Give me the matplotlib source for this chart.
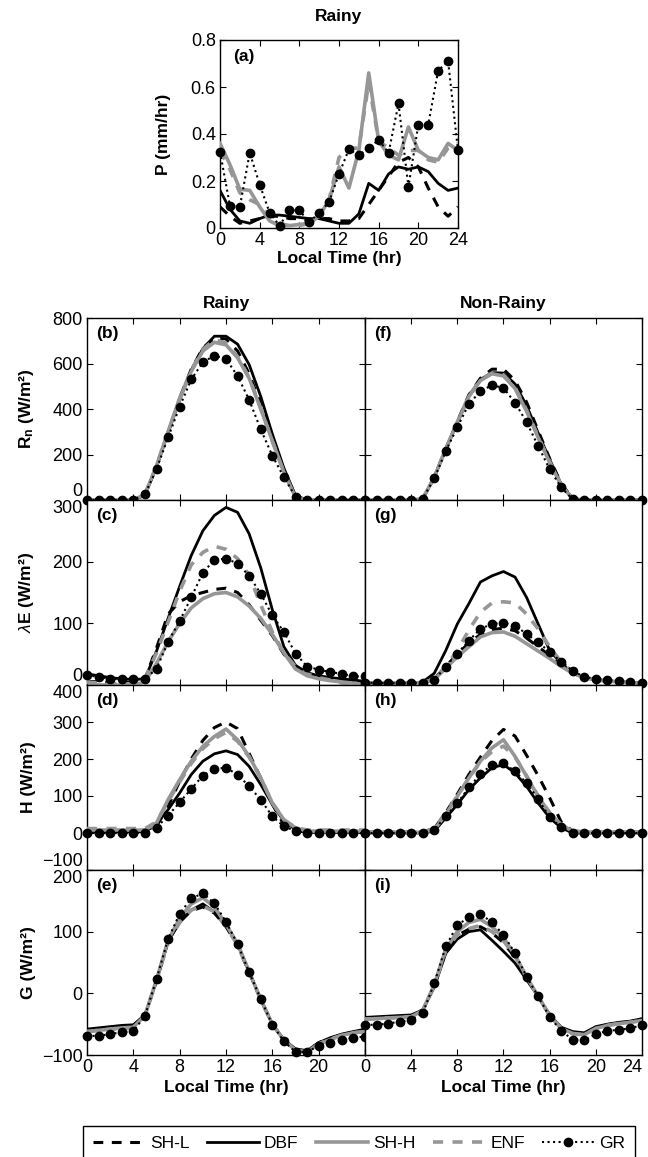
import numpy as np
import matplotlib
matplotlib.use('Agg')
import matplotlib.pyplot as plt
from matplotlib.lines import Line2D

plt.rcParams['font.family'] = ['Liberation Sans', 'DejaVu Sans']
plt.rcParams['mathtext.fontset'] = 'custom'
plt.rcParams['mathtext.rm'] = 'Liberation Sans'
plt.rcParams['mathtext.bf'] = 'Liberation Sans:bold'
plt.rcParams['mathtext.it'] = 'Liberation Sans:italic'

hours = list(range(25))
series = ['SH-L', 'DBF', 'SH-H', 'ENF', 'GR']

# (a) precipitation, rainy
P_SHL = [0.09, 0.05, 0.02, 0.03, 0.04, 0.05, 0.05, 0.04, 0.04, 0.03, 0.04, 0.04, 0.03, 0.03, 0.04, 0.10, 0.16, 0.22, 0.28, 0.30, 0.26, 0.17, 0.09, 0.05, 0.09]
P_DBF = [0.16, 0.08, 0.03, 0.02, 0.04, 0.055, 0.055, 0.05, 0.045, 0.04, 0.04, 0.03, 0.02, 0.02, 0.06, 0.19, 0.16, 0.23, 0.26, 0.25, 0.26, 0.24, 0.19, 0.16, 0.17]
P_SHH = [0.36, 0.27, 0.165, 0.16, 0.09, 0.03, 0.01, 0.01, 0.015, 0.02, 0.05, 0.12, 0.26, 0.17, 0.33, 0.66, 0.37, 0.31, 0.29, 0.43, 0.33, 0.30, 0.29, 0.36, 0.33]
P_ENF = [0.33, 0.25, 0.15, 0.12, 0.10, 0.05, 0.02, 0.01, 0.01, 0.02, 0.05, 0.12, 0.30, 0.34, 0.34, 0.62, 0.37, 0.34, 0.31, 0.33, 0.33, 0.29, 0.28, 0.34, 0.36]
P_GR = [0.325, 0.095, 0.09, 0.32, 0.185, 0.065, 0.01, 0.075, 0.075, 0.025, 0.065, 0.11, 0.23, 0.335, 0.31, 0.34, 0.375, 0.32, 0.53, 0.175, 0.44, 0.44, 0.67, 0.71, 0.33]

# (b) Rn rainy
RnR_SHL = [0, 0, 0, 0, 0, 22, 148, 298, 448, 575, 668, 712, 708, 655, 555, 420, 270, 130, 15, 0, 0, 0, 0, 0, 0]
RnR_DBF = [0, 0, 0, 0, 0, 20, 145, 295, 440, 570, 665, 720, 720, 685, 595, 455, 290, 140, 20, 0, 0, 0, 0, 0, 0]
RnR_SHH = [0, 0, 0, 0, 0, 25, 150, 300, 445, 565, 655, 693, 682, 625, 535, 400, 260, 122, 12, 0, 0, 0, 0, 0, 0]
RnR_ENF = [0, 0, 0, 0, 0, 25, 150, 300, 448, 572, 662, 705, 690, 630, 538, 402, 258, 120, 12, 0, 0, 0, 0, 0, 0]
RnR_GR = [0, 0, 0, 0, 0, 25, 135, 275, 410, 530, 605, 635, 620, 545, 440, 310, 195, 100, 15, 0, 0, 0, 0, 0, 0]

# (f) Rn non-rainy
RnN_SHL = [0, 0, 0, 0, 0, 5, 100, 225, 345, 462, 535, 575, 575, 525, 430, 305, 182, 72, 5, 0, 0, 0, 0, 0, 0]
RnN_DBF = [0, 0, 0, 0, 0, 5, 100, 222, 340, 455, 530, 560, 558, 510, 415, 295, 178, 70, 5, 0, 0, 0, 0, 0, 0]
RnN_SHH = [0, 0, 0, 0, 0, 5, 100, 225, 340, 455, 525, 555, 545, 490, 390, 275, 165, 65, 5, 0, 0, 0, 0, 0, 0]
RnN_ENF = [0, 0, 0, 0, 0, 5, 100, 225, 343, 458, 528, 558, 550, 495, 395, 280, 168, 66, 5, 0, 0, 0, 0, 0, 0]
RnN_GR = [0, 0, 0, 0, 0, 5, 95, 215, 320, 422, 478, 505, 492, 428, 342, 238, 135, 55, 3, 0, 0, 0, 0, 0, 0]

# (c) LE rainy
LER_SHL = [6, 5, 4, 4, 4, 10, 60, 115, 135, 145, 150, 155, 157, 150, 130, 105, 80, 50, 28, 18, 12, 10, 8, 6, 5]
LER_DBF = [18, 15, 12, 10, 9, 10, 55, 108, 160, 210, 250, 275, 288, 280, 245, 190, 122, 62, 32, 20, 15, 12, 10, 8, 6]
LER_SHH = [5, 0, 0, 0, 0, 5, 35, 70, 100, 125, 140, 148, 150, 143, 128, 108, 82, 52, 26, 15, 10, 7, 5, 3, 0]
LER_ENF = [5, 3, 2, 2, 2, 10, 52, 102, 152, 195, 215, 225, 220, 205, 178, 130, 86, 52, 30, 18, 12, 8, 3, -3, -10]
LER_GR = [16, 13, 10, 9, 9, 10, 26, 70, 104, 142, 182, 203, 205, 197, 177, 148, 113, 86, 51, 30, 25, 21, 18, 14, 14]

# (g) LE non-rainy
LEN_SHL = [3, 3, 3, 3, 3, 4, 10, 30, 50, 68, 82, 90, 92, 88, 76, 62, 48, 33, 20, 12, 9, 7, 5, 4, 3]
LEN_DBF = [3, 3, 3, 3, 3, 5, 19, 56, 99, 132, 167, 177, 184, 175, 142, 99, 56, 35, 19, 12, 9, 7, 5, 4, 3]
LEN_SHH = [3, 3, 3, 3, 3, 4, 9, 27, 46, 62, 78, 85, 86, 79, 67, 55, 43, 30, 19, 12, 8, 6, 5, 4, 3]
LEN_ENF = [3, 3, 3, 3, 3, 4, 8, 30, 56, 89, 118, 133, 135, 133, 115, 91, 62, 37, 20, 12, 9, 7, 5, 4, 3]
LEN_GR = [4, 3, 3, 3, 3, 4, 8, 30, 51, 72, 91, 99, 101, 96, 83, 69, 54, 38, 23, 13, 10, 8, 6, 5, 4]

# (d) H rainy
HR_SHL = [5, 5, 5, 5, 5, 8, 18, 72, 140, 200, 250, 285, 300, 282, 215, 148, 78, 22, 5, 3, 3, 3, 3, 3, 3]
HR_DBF = [3, 3, 3, 3, 3, 3, 27, 63, 108, 158, 194, 214, 222, 212, 180, 131, 77, 32, 9, 2, 2, 2, 2, 2, 2]
HR_SHH = [8, 8, 8, 8, 8, 8, 27, 90, 144, 194, 234, 261, 281, 252, 207, 149, 81, 36, 14, 5, 5, 5, 5, 5, 5]
HR_ENF = [12, 12, 12, 12, 12, 12, 30, 85, 138, 188, 228, 255, 272, 248, 205, 148, 82, 36, 14, 8, 8, 8, 8, 8, 8]
HR_GR = [0, 0, 0, 0, 0, 0, 14, 47, 83, 119, 155, 174, 176, 158, 126, 90, 45, 18, 5, 0, 0, 0, 0, 0, 0]

# (h) H non-rainy
HN_SHL = [2, 2, 2, 2, 2, 3, 12, 55, 105, 158, 205, 250, 280, 262, 210, 155, 95, 30, 5, 2, 2, 2, 2, 2, 2]
HN_DBF = [0, 0, 0, 0, 0, 0, 5, 41, 77, 117, 149, 176, 185, 162, 126, 81, 41, 14, 0, 0, 0, 0, 0, 0, 0]
HN_SHH = [2, 2, 2, 2, 2, 2, 9, 50, 99, 149, 194, 230, 252, 207, 153, 99, 54, 22, 5, 2, 2, 2, 2, 2, 2]
HN_ENF = [3, 3, 3, 3, 3, 3, 12, 55, 100, 148, 192, 220, 235, 205, 155, 100, 55, 22, 6, 3, 3, 3, 3, 3, 3]
HN_GR = [0, 0, 0, 0, 0, 0, 9, 45, 81, 123, 159, 185, 189, 167, 135, 92, 42, 16, 0, 0, 0, 0, 0, 0, 0]

# (e) G rainy
GR_SHL = [-60, -58, -56, -54, -53, -36, 20, 84, 116, 134, 140, 130, 108, 78, 34, -10, -50, -76, -92, -94, -80, -73, -67, -63, -60]
GR_DBF = [-58, -56, -54, -52, -51, -35, 20, 85, 115, 135, 145, 132, 110, 80, 35, -10, -50, -75, -90, -93, -80, -72, -66, -62, -58]
GR_SHH = [-62, -60, -58, -56, -55, -36, 22, 86, 122, 145, 155, 140, 112, 80, 35, -10, -50, -76, -92, -95, -82, -75, -68, -64, -62]
GR_ENF = [-62, -60, -58, -57, -56, -36, 20, 82, 115, 135, 142, 132, 108, 78, 34, -10, -50, -76, -93, -96, -82, -74, -68, -64, -62]
GR_GR = [-69, -69, -66, -63, -61, -37, 23, 88, 129, 154, 162, 146, 116, 80, 34, -9, -51, -78, -95, -95, -85, -80, -75, -72, -70]

# (i) G non-rainy
GN_SHL = [-40, -39, -38, -37, -36, -27, 12, 68, 94, 104, 108, 98, 82, 58, 25, -5, -35, -56, -64, -66, -56, -51, -48, -46, -42]
GN_DBF = [-39, -38, -37, -36, -35, -27, 10, 65, 88, 100, 103, 86, 68, 49, 22, -5, -35, -55, -62, -64, -54, -50, -47, -45, -41]
GN_SHH = [-42, -41, -40, -39, -38, -28, 14, 72, 100, 115, 120, 108, 90, 62, 27, -5, -36, -57, -65, -67, -57, -52, -49, -47, -44]
GN_ENF = [-42, -41, -40, -39, -38, -28, 12, 70, 95, 105, 110, 100, 85, 60, 25, -5, -36, -57, -66, -67, -57, -52, -49, -47, -44]
GN_GR = [-51, -51, -49, -46, -43, -32, 16, 76, 111, 123, 129, 115, 95, 65, 27, -5, -38, -61, -75, -76, -66, -61, -59, -57, -51]

GRAY = '#969696'
styles = {
    'SH-L': dict(color='black', lw=2.2, ls=(0, (3.2, 2.8))),
    'DBF': dict(color='black', lw=2.0, ls='-'),
    'SH-H': dict(color=GRAY, lw=2.6, ls='-'),
    'ENF': dict(color=GRAY, lw=2.6, ls=(0, (2.8, 2.6))),
    'GR': dict(color='black', lw=1.5, ls=':', marker='o', ms=6),
}

W, H = 648, 1157
fig = plt.figure(figsize=(W / 100, H / 100), dpi=100)


def rect(x0, x1, y0, y1):
    return [x0 / W, 1 - y1 / H, (x1 - x0) / W, (y1 - y0) / H]


TICK_FS = 13
LAB_FS = 12.5


def style_ax(ax, ylim, yticks):
    ax.set_xlim(0, 24)
    ax.set_xticks(range(0, 25, 4))
    ax.set_ylim(*ylim)
    ax.set_yticks(yticks)
    ax.tick_params(direction='in', top=True, right=True, length=4, width=0.8,
                   labelsize=TICK_FS, pad=3)
    for s in ax.spines.values():
        s.set_linewidth(1.0)


def draw(ax, data):
    for name, y in zip(series, data):
        st = styles[name]
        ax.plot(hours, y, color=st['color'], lw=st['lw'], ls=st['ls'],
                marker=st.get('marker', 'None'), ms=st.get('ms', 0),
                clip_on=False if name == 'GR' else True, zorder=3)


# Panel (a)
axa = fig.add_axes(rect(220, 458, 40, 228))
draw(axa, [P_SHL, P_DBF, P_SHH, P_ENF, P_GR])
style_ax(axa, (0, 0.8), [0, 0.2, 0.4, 0.6, 0.8])
axa.set_yticklabels(['0', '0.2', '0.4', '0.6', '0.8'])
axa.set_title('Rainy', fontweight='bold', fontsize=LAB_FS, pad=14)
axa.set_ylabel('P (mm/hr)', fontweight='bold', fontsize=LAB_FS)
axa.yaxis.set_label_coords(-0.205, 0.5)
axa.set_xlabel('Local Time (hr)', fontweight='bold', fontsize=LAB_FS, labelpad=1)
axa.text(0.055, 0.91, '(a)', transform=axa.transAxes, fontweight='bold',
         fontsize=LAB_FS, ha='left', va='center')

rows = [(318, 500), (500, 685), (685, 870), (870, 1055)]
cols = [(87, 365), (365, 642)]

panel_data = [
    ([RnR_SHL, RnR_DBF, RnR_SHH, RnR_ENF, RnR_GR], [RnN_SHL, RnN_DBF, RnN_SHH, RnN_ENF, RnN_GR]),
    ([LER_SHL, LER_DBF, LER_SHH, LER_ENF, LER_GR], [LEN_SHL, LEN_DBF, LEN_SHH, LEN_ENF, LEN_GR]),
    ([HR_SHL, HR_DBF, HR_SHH, HR_ENF, HR_GR], [HN_SHL, HN_DBF, HN_SHH, HN_ENF, HN_GR]),
    ([GR_SHL, GR_DBF, GR_SHH, GR_ENF, GR_GR], [GN_SHL, GN_DBF, GN_SHH, GN_ENF, GN_GR]),
]
ylims = [(0, 800), (0, 300), (-100, 400), (-100, 200)]
yticks = [[0, 200, 400, 600, 800], [0, 100, 200, 300], [-100, 0, 100, 200, 300, 400],
          [-100, 0, 100, 200]]
ylabels = [r'$\mathbf{R}_{\mathbf{n}}$ (W/m²)', r'$\lambda$E (W/m²)', 'H (W/m²)', 'G (W/m²)']
letters = [['(b)', '(c)', '(d)', '(e)'], ['(f)', '(g)', '(h)', '(i)']]

for r, (y0, y1) in enumerate(rows):
    for c, (x0, x1) in enumerate(cols):
        ax = fig.add_axes(rect(x0, x1, y0, y1))
        draw(ax, panel_data[r][c])
        style_ax(ax, ylims[r], yticks[r])
        ax.text(0.032, 0.915, letters[c][r], transform=ax.transAxes,
                fontweight='bold', fontsize=LAB_FS, ha='left', va='center')
        if c == 0:
            ax.set_ylabel(ylabels[r], fontweight='bold', fontsize=LAB_FS)
            ax.yaxis.set_label_coords(-0.185, 0.5)
            ticks = ax.yaxis.get_major_ticks()
            if r > 0:
                ticks[-1].label1.set_verticalalignment('top')
            if r < 3:
                ticks[0].label1.set_verticalalignment('bottom')
        else:
            ax.set_yticklabels([])
        if r == 3:
            ax.set_xlabel('Local Time (hr)', fontweight='bold', fontsize=LAB_FS, labelpad=3)
            if c == 0:
                ax.set_xticklabels(['0', '4', '8', '12', '16', '20', ''])
            else:
                xt = ax.xaxis.get_major_ticks()
                xt[-1].label1.set_horizontalalignment('right')
        else:
            ax.set_xticklabels([])
        if r == 0:
            ax.set_title('Rainy' if c == 0 else 'Non-Rainy', fontweight='bold',
                         fontsize=LAB_FS, pad=7)

handles = []
for name in series:
    st = styles[name]
    handles.append(Line2D([], [], color=st['color'], lw=st['lw'], ls=st['ls'],
                          marker=st.get('marker', 'None'), ms=st.get('ms', 0)))
fig.legend(handles, series, loc='upper left', bbox_to_anchor=(83 / W, 1 - 1126 / H),
           ncol=5, frameon=True, fancybox=False, edgecolor='black', framealpha=1,
           fontsize=12.5, handlelength=3.0, columnspacing=1.0, handletextpad=0.3,
           borderpad=0.55, numpoints=1, borderaxespad=0)

fig.savefig('out.png', dpi=100)
